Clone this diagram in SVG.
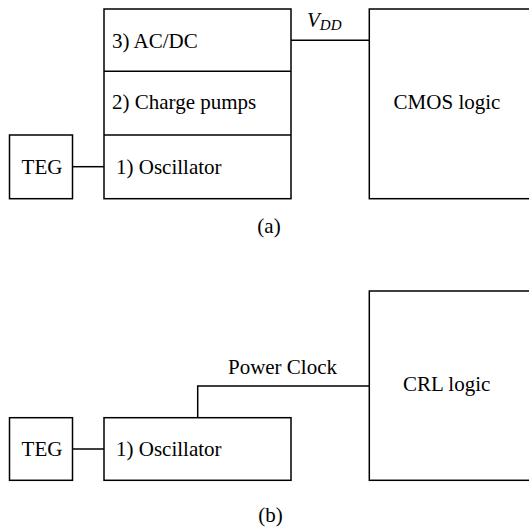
<svg xmlns="http://www.w3.org/2000/svg" width="529" height="527" viewBox="0 0 529 527">
  <style>
    .box { fill: #fff; stroke: #000; stroke-width: 1.5; }
    .wire { fill: none; stroke: #000; stroke-width: 1.5; }
  </style>
  <rect width="529" height="527" fill="#fff"/>

  <!-- (a) conventional supply chain -->
  <g id="a-stack">
    <rect class="box" x="104" y="9" width="187" height="189.7"/>
    <line class="wire" x1="104" y1="71.3" x2="291" y2="71.3"/>
    <line class="wire" x1="104" y1="135" x2="291" y2="135"/>
  </g>
  <g id="a-acdc"><text x="112" y="47.5" style="font-family: 'Times New Roman', 'Liberation Serif', serif; font-size: 21px">3) AC/DC</text></g>
  <g id="a-pumps"><text x="112" y="109" style="font-family: 'Times New Roman', 'Liberation Serif', serif; font-size: 21px">2) Charge pumps</text></g>
  <g id="a-osc"><text x="116" y="174" style="font-family: 'Times New Roman', 'Liberation Serif', serif; font-size: 21px">1) Oscillator</text></g>
  <g id="a-teg">
    <rect class="box" x="9.5" y="135" width="63" height="63.7"/>
    <text x="42" y="174" text-anchor="middle" style="font-family: 'Times New Roman', 'Liberation Serif', serif; font-size: 21px">TEG</text>
  </g>
  <g id="a-cmos">
    <rect class="box" x="369.3" y="9" width="170" height="189.7"/>
    <text x="447" y="109" text-anchor="middle" style="font-family: 'Times New Roman', 'Liberation Serif', serif; font-size: 21px">CMOS logic</text>
  </g>
  <g id="a-connectors">
    <line class="wire" x1="72.5" y1="166.7" x2="104" y2="166.7"/>
    <line class="wire" x1="291" y1="40.3" x2="369.3" y2="40.3"/>
  </g>
  <text x="307" y="27" style="font-family: 'Times New Roman', 'Liberation Serif', serif; font-size: 21px; font-style: italic">V<tspan dy="3" style="font-size: 15px">DD</tspan></text>
  <text x="269" y="233" text-anchor="middle" style="font-family: 'Times New Roman', 'Liberation Serif', serif; font-size: 21px">(a)</text>

  <!-- (b) resonant clock supply -->
  <g id="b-osc">
    <rect class="box" x="104" y="417.7" width="187" height="62.6"/>
    <text x="116" y="456" style="font-family: 'Times New Roman', 'Liberation Serif', serif; font-size: 21px">1) Oscillator</text>
  </g>
  <g id="b-teg">
    <rect class="box" x="9.5" y="417.7" width="63" height="62.6"/>
    <text x="42" y="456" text-anchor="middle" style="font-family: 'Times New Roman', 'Liberation Serif', serif; font-size: 21px">TEG</text>
  </g>
  <g id="b-crl">
    <rect class="box" x="369.3" y="291" width="170" height="189.3"/>
    <text x="446.7" y="390.7" text-anchor="middle" style="font-family: 'Times New Roman', 'Liberation Serif', serif; font-size: 21px">CRL logic</text>
  </g>
  <g id="b-connectors">
    <line class="wire" x1="72.5" y1="449" x2="104" y2="449"/>
    <polyline class="wire" points="197.7,417.7 197.7,386 369.3,386"/>
  </g>
  <text x="282.5" y="374" text-anchor="middle" style="font-family: 'Times New Roman', 'Liberation Serif', serif; font-size: 21px">Power Clock</text>
  <text x="270.5" y="521.5" text-anchor="middle" style="font-family: 'Times New Roman', 'Liberation Serif', serif; font-size: 21px">(b)</text>
</svg>
